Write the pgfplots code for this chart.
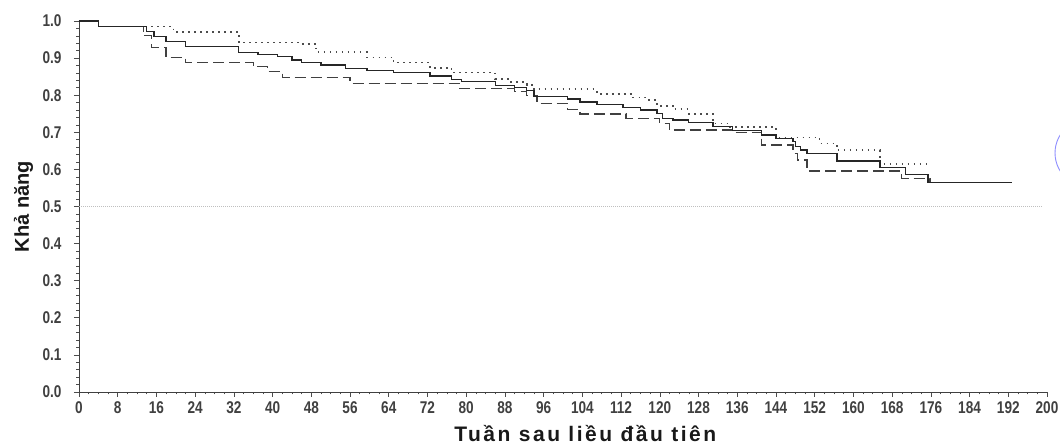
\documentclass[border=0pt]{standalone}
\usepackage{pgfplots}
\pgfplotsset{compat=1.18}
\usepackage{fontspec}
\setmainfont{Liberation Sans}
\newfontfamily\ticksfont[FakeStretch=0.8]{Liberation Sans Bold}
\newfontfamily\labfont[LetterSpace=12]{Liberation Sans Bold}
\newfontfamily\ylabfont{Liberation Sans Bold}
\begin{document}
\begin{tikzpicture}
\useasboundingbox (-79pt,-54pt) rectangle (981pt,392pt);
\begin{axis}[
  at={(0,0)}, anchor=south west,
  scale only axis, width=968pt, height=371pt,
  xmin=0, xmax=200, ymin=0, ymax=1,
  axis lines*=left,
  axis line style={black!75, line width=0.9pt},
  xtick={0,8,...,200},
  ytick={0,0.1,...,1.0},
  minor x tick num=3,
  minor y tick num=4,
  tick align=outside,
  major tick length=5pt,
  minor tick length=2.5pt,
  tick style={black!70, line width=0.6pt},
  yticklabel style={/pgf/number format/fixed, /pgf/number format/fixed zerofill, /pgf/number format/precision=1},
  /pgf/number format/assume math mode=true,
  ticklabel style={font=\ticksfont\fontsize{17}{19}\selectfont, text=black!75},
  xticklabel style={yshift=-1pt},
  yticklabel style={xshift=-9pt},
  xlabel={\labfont\fontsize{21}{24}\selectfont Tuần sau liều đầu tiên},
  ylabel={\ylabfont\fontsize{20}{24}\selectfont Khả năng},
  xlabel style={at={(axis description cs:0.523,0)}, anchor=base, yshift=-50pt, text=black!90},
  ylabel style={at={(axis description cs:-0.0517,0.5)}, anchor=base, text=black!90},
  clip=false,
]
\addplot[black!25, line width=0.8pt, dash pattern=on 1pt off 1pt] coordinates {(0,0.5) (199,0.5)};
% dotted (upper)
\addplot[const plot, black!70, line width=1.6pt, dash pattern=on 1.6pt off 4.4pt] coordinates {
(0,1.0) (4,0.985) (19.5,0.971) (33,0.942) (46,0.938) (49,0.916) (59.5,0.902) (65,0.888) (72.5,0.874) (77,0.861) (86,0.844) (89,0.836) (92.5,0.828) (94,0.816) (107,0.803) (114.5,0.794) (117,0.787) (119.4,0.771) (122.7,0.762) (126,0.750) (131,0.724) (134.5,0.715) (144,0.686) (153,0.670) (156.6,0.652) (165.5,0.614) (175.8,0.614)};
% dashed (lower)
\addplot[const plot, black!75, line width=1.3pt, dash pattern=on 11pt off 5pt] coordinates {
(0,1.0) (4,0.985) (13.3,0.96) (15,0.928) (18,0.902) (22,0.888) (36,0.877) (39,0.864) (42,0.848) (56,0.832) (78.7,0.818) (90,0.810) (92.5,0.800) (94.6,0.778) (101,0.762) (103.5,0.749) (113,0.738) (120,0.724) (122,0.706) (135,0.700) (141,0.666) (147.5,0.643) (148.5,0.625) (150.4,0.596) (170,0.576) (175.8,0.564) (192.8,0.564)};
% solid (middle)
\addplot[const plot, black!85, line width=1.3pt] coordinates {
(0,1.0) (4,0.985) (14,0.972) (15.5,0.958) (18,0.945) (22,0.931) (33,0.916) (37,0.910) (41,0.904) (44,0.895) (46,0.888) (50,0.881) (55,0.872) (59.5,0.866) (65,0.861) (72.5,0.852) (77,0.843) (79,0.836) (86,0.827) (90,0.821) (92.5,0.812) (94,0.796) (101,0.790) (103.5,0.782) (107,0.775) (112.4,0.767) (116,0.760) (119.4,0.751) (120.5,0.738) (122.7,0.733) (126,0.727) (131,0.715) (135,0.704) (141,0.693) (144,0.684) (147.5,0.675) (148,0.661) (149,0.652) (150.4,0.642) (156.6,0.623) (165.5,0.606) (170.7,0.587) (175.4,0.564) (192.8,0.564)};
\end{axis}
\draw[blue!45!white, line width=0.9pt] (976pt,239pt) arc[start angle=180, end angle=235, radius=34pt];
\draw[blue!45!white, line width=0.9pt] (976pt,239pt) arc[start angle=180, end angle=125, radius=34pt];
\end{tikzpicture}
\end{document}
